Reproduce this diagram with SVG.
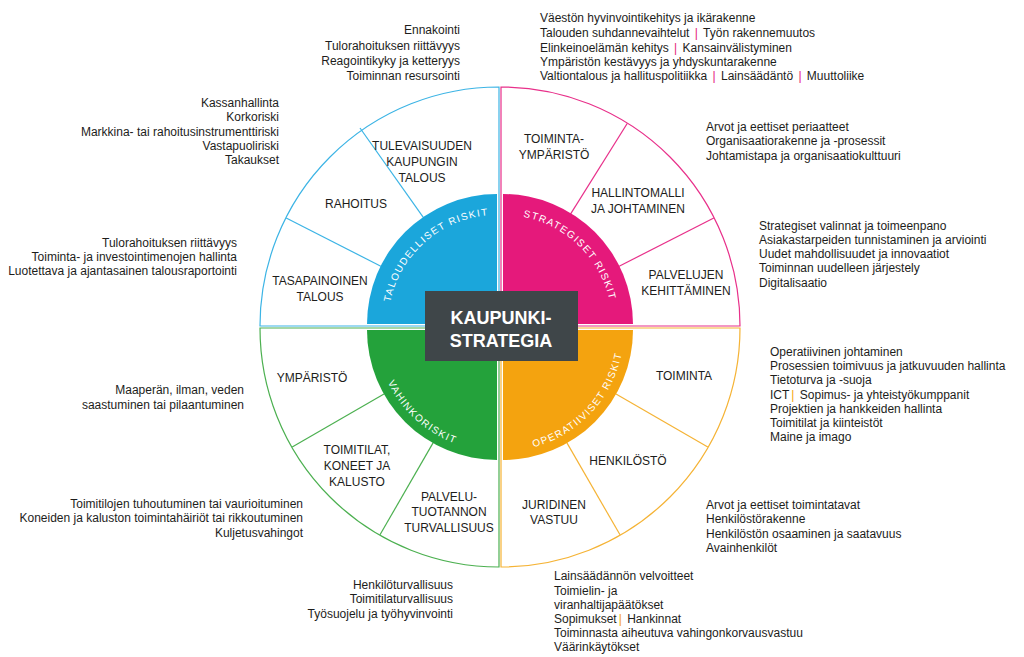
<svg xmlns="http://www.w3.org/2000/svg" width="1024" height="657" viewBox="0 0 1024 657">
<defs>
<style>
.t{font-family:"Liberation Sans",Arial,sans-serif;font-size:12px;fill:#1d1d1b}
.r{text-anchor:end}
.lb{font-family:"Liberation Sans",Arial,sans-serif;font-size:12px;fill:#1d1d1b;text-anchor:middle}
.arc{font-family:"Liberation Sans",Arial,sans-serif;font-size:10px;fill:#fff;letter-spacing:1.3px}
.ol{fill:none;stroke-width:1.2}
.pk{fill:#e5197b}
.og{fill:#f4a30f}
</style>
<path id="pb" d="M388,324 A109,109 0 0 1 497,215"/>
<path id="pp" d="M503,215 A109,109 0 0 1 612,324"/>
<path id="pg" d="M376,330 A121,121 0 0 0 497,451"/>
<path id="po" d="M503,451 A121,121 0 0 0 624,330"/>
</defs>
<rect width="1024" height="657" fill="#fff"/>

<g id="outlines">
<path class="ol" stroke="#3cb4e5" d="M499,326 L499,87 A239,239 0 0 0 260,326 Z"/>
<path class="ol" stroke="#e8308a" d="M501,326 L501,87 A239,239 0 0 1 740,326 Z"/>
<path class="ol" stroke="#4cb050" d="M499,328 L260,328 A239,239 0 0 0 499,567 Z"/>
<path class="ol" stroke="#f5b335" d="M501,328 L501,567 A239,239 0 0 0 740,328 Z"/>
</g>

<g id="connectors">
<line class="ol" stroke="#3cb4e5" x1="424.9" y1="219.7" x2="360" y2="128"/>
<line class="ol" stroke="#3cb4e5" x1="383.3" y1="267.5" x2="286.2" y2="218"/>
<line class="ol" stroke="#e8308a" x1="569.4" y1="215.9" x2="627.2" y2="123.5"/>
<line class="ol" stroke="#e8308a" x1="616.7" y1="267.5" x2="713.8" y2="218"/>
<line class="ol" stroke="#4cb050" x1="386.6" y1="392.5" x2="292.2" y2="447"/>
<line class="ol" stroke="#4cb050" x1="434.5" y1="440.4" x2="380" y2="534.8"/>
<line class="ol" stroke="#f5b335" x1="613.4" y1="392.5" x2="707.8" y2="447"/>
<line class="ol" stroke="#f5b335" x1="565.5" y1="440.4" x2="620" y2="534.8"/>
</g>

<g id="q-taloudelliset">
<path d="M497,324 L367,324 A130,130 0 0 1 497,194 Z" fill="#1ba6db"/>
<text class="arc"><textPath href="#pb" startOffset="54%" text-anchor="middle">TALOUDELLISET RISKIT</textPath></text>
</g>
<g id="q-strategiset">
<path d="M503,324 L503,194 A130,130 0 0 1 633,324 Z" fill="#e5197b"/>
<text class="arc"><textPath href="#pp" startOffset="49%" text-anchor="middle">STRATEGISET RISKIT</textPath></text>
</g>
<g id="q-vahinkoriskit">
<path d="M497,330 L367,330 A130,130 0 0 0 497,460 Z" fill="#24a23b"/>
<text class="arc"><textPath href="#pg" startOffset="53%" text-anchor="middle">VAHINKORISKIT</textPath></text>
</g>
<g id="q-operatiiviset">
<path d="M503,330 L503,460 A130,130 0 0 0 633,330 Z" fill="#f4a30f"/>
<text class="arc"><textPath href="#po" startOffset="52%" text-anchor="middle">OPERATIIVISET RISKIT</textPath></text>
</g>

<g id="center">
<rect x="425" y="291" width="153" height="70" fill="#3f4649"/>
<text x="501" y="324" font-family="Liberation Sans,Arial,sans-serif" font-weight="bold" font-size="18" fill="#fff" text-anchor="middle">KAUPUNKI-</text>
<text x="501" y="347" font-family="Liberation Sans,Arial,sans-serif" font-weight="bold" font-size="18" fill="#fff" text-anchor="middle">STRATEGIA</text>
</g>

<g id="s-tulevaisuuden">
<text class="lb" x="422" y="150">TULEVAISUUDEN</text>
<text class="lb" x="422" y="166">KAUPUNGIN</text>
<text class="lb" x="422" y="182">TALOUS</text>
<text class="t r" x="460" y="34">Ennakointi</text>
<text class="t r" x="460" y="49.5">Tulorahoituksen riittävyys</text>
<text class="t r" x="460" y="65">Reagointikyky ja ketteryys</text>
<text class="t r" x="460" y="80">Toiminnan resursointi</text>
</g>
<g id="s-rahoitus">
<text class="lb" x="356" y="208">RAHOITUS</text>
<text class="t r" x="279" y="107">Kassanhallinta</text>
<text class="t r" x="279" y="121">Korkoriski</text>
<text class="t r" x="279" y="136">Markkina- tai rahoitusinstrumenttiriski</text>
<text class="t r" x="279" y="150">Vastapuoliriski</text>
<text class="t r" x="279" y="164">Takaukset</text>
</g>
<g id="s-tasapainoinen">
<text class="lb" x="320" y="285">TASAPAINOINEN</text>
<text class="lb" x="320" y="301">TALOUS</text>
<text class="t r" x="237" y="247">Tulorahoituksen riittävyys</text>
<text class="t r" x="237" y="261">Toiminta- ja investointimenojen hallinta</text>
<text class="t r" x="237" y="275">Luotettava ja ajantasainen talousraportointi</text>
</g>
<g id="s-toimintaymparisto">
<text class="lb" x="554" y="143">TOIMINTA-</text>
<text class="lb" x="554" y="159">YMPÄRISTÖ</text>
<text class="t" x="540" y="22">Väestön hyvinvointikehitys ja ikärakenne</text>
<text class="t" x="540" y="37">Talouden suhdannevaihtelut <tspan class="pk" dx="2">|</tspan><tspan dx="2"> Työn rakennemuutos</tspan></text>
<text class="t" x="540" y="52">Elinkeinoelämän kehitys <tspan class="pk" dx="2">|</tspan><tspan dx="2"> Kansainvälistyminen</tspan></text>
<text class="t" x="540" y="66">Ympäristön kestävyys ja yhdyskuntarakenne</text>
<text class="t" x="540" y="80">Valtiontalous ja hallituspolitiikka <tspan class="pk" dx="2">|</tspan><tspan dx="2"> Lainsäädäntö </tspan><tspan class="pk" dx="2">|</tspan><tspan dx="2"> Muuttoliike</tspan></text>
</g>
<g id="s-hallintomalli">
<text class="lb" x="638" y="197">HALLINTOMALLI</text>
<text class="lb" x="638" y="213">JA JOHTAMINEN</text>
<text class="t" x="706" y="131">Arvot ja eettiset periaatteet</text>
<text class="t" x="706" y="145">Organisaatiorakenne ja -prosessit</text>
<text class="t" x="706" y="160">Johtamistapa ja organisaatiokulttuuri</text>
</g>
<g id="s-palvelujen">
<text class="lb" x="686" y="279">PALVELUJEN</text>
<text class="lb" x="686" y="295">KEHITTÄMINEN</text>
<text class="t" x="759" y="230">Strategiset valinnat ja toimeenpano</text>
<text class="t" x="759" y="244">Asiakastarpeiden tunnistaminen ja arviointi</text>
<text class="t" x="759" y="258">Uudet mahdollisuudet ja innovaatiot</text>
<text class="t" x="759" y="272">Toiminnan uudelleen järjestely</text>
<text class="t" x="759" y="287">Digitalisaatio</text>
</g>
<g id="s-ymparisto">
<text class="lb" x="312" y="382">YMPÄRISTÖ</text>
<text class="t r" x="244" y="394">Maaperän, ilman, veden</text>
<text class="t r" x="244" y="409">saastuminen tai pilaantuminen</text>
</g>
<g id="s-toimitilat">
<text class="lb" x="357" y="454">TOIMITILAT,</text>
<text class="lb" x="357" y="470">KONEET JA</text>
<text class="lb" x="357" y="486">KALUSTO</text>
<text class="t r" x="303" y="508">Toimitilojen tuhoutuminen tai vaurioituminen</text>
<text class="t r" x="303" y="522">Koneiden ja kaluston toimintahäiriöt tai rikkoutuminen</text>
<text class="t r" x="303" y="537">Kuljetusvahingot</text>
</g>
<g id="s-palvelutuotannon">
<text class="lb" x="449" y="501">PALVELU-</text>
<text class="lb" x="449" y="516">TUOTANNON</text>
<text class="lb" x="449" y="532">TURVALLISUUS</text>
<text class="t r" x="453" y="589">Henkilöturvallisuus</text>
<text class="t r" x="453" y="603">Toimitilaturvallisuus</text>
<text class="t r" x="453" y="618">Työsuojelu ja työhyvinvointi</text>
</g>
<g id="s-toiminta">
<text class="lb" x="684" y="380">TOIMINTA</text>
<text class="t" x="770" y="356">Operatiivinen johtaminen</text>
<text class="t" x="770" y="370">Prosessien toimivuus ja jatkuvuuden hallinta</text>
<text class="t" x="770" y="384">Tietoturva ja -suoja</text>
<text class="t" x="770" y="399">ICT<tspan class="og" dx="2">|</tspan><tspan dx="2"> Sopimus- ja yhteistyökumppanit</tspan></text>
<text class="t" x="770" y="413">Projektien ja hankkeiden hallinta</text>
<text class="t" x="770" y="427">Toimitilat ja kiinteistöt</text>
<text class="t" x="770" y="441">Maine ja imago</text>
</g>
<g id="s-henkilosto">
<text class="lb" x="628" y="465">HENKILÖSTÖ</text>
<text class="t" x="706" y="509">Arvot ja eettiset toimintatavat</text>
<text class="t" x="706" y="523">Henkilöstörakenne</text>
<text class="t" x="706" y="538">Henkilöstön osaaminen ja saatavuus</text>
<text class="t" x="706" y="552">Avainhenkilöt</text>
</g>
<g id="s-juridinen">
<text class="lb" x="554" y="509">JURIDINEN</text>
<text class="lb" x="554" y="524">VASTUU</text>
<text class="t" x="554" y="580">Lainsäädännön velvoitteet</text>
<text class="t" x="554" y="595">Toimielin- ja</text>
<text class="t" x="554" y="609">viranhaltijapäätökset</text>
<text class="t" x="554" y="623">Sopimukset<tspan class="og" dx="2">|</tspan><tspan dx="2"> Hankinnat</tspan></text>
<text class="t" x="554" y="637">Toiminnasta aiheutuva vahingonkorvausvastuu</text>
<text class="t" x="554" y="651">Väärinkäytökset</text>
</g>
</svg>
